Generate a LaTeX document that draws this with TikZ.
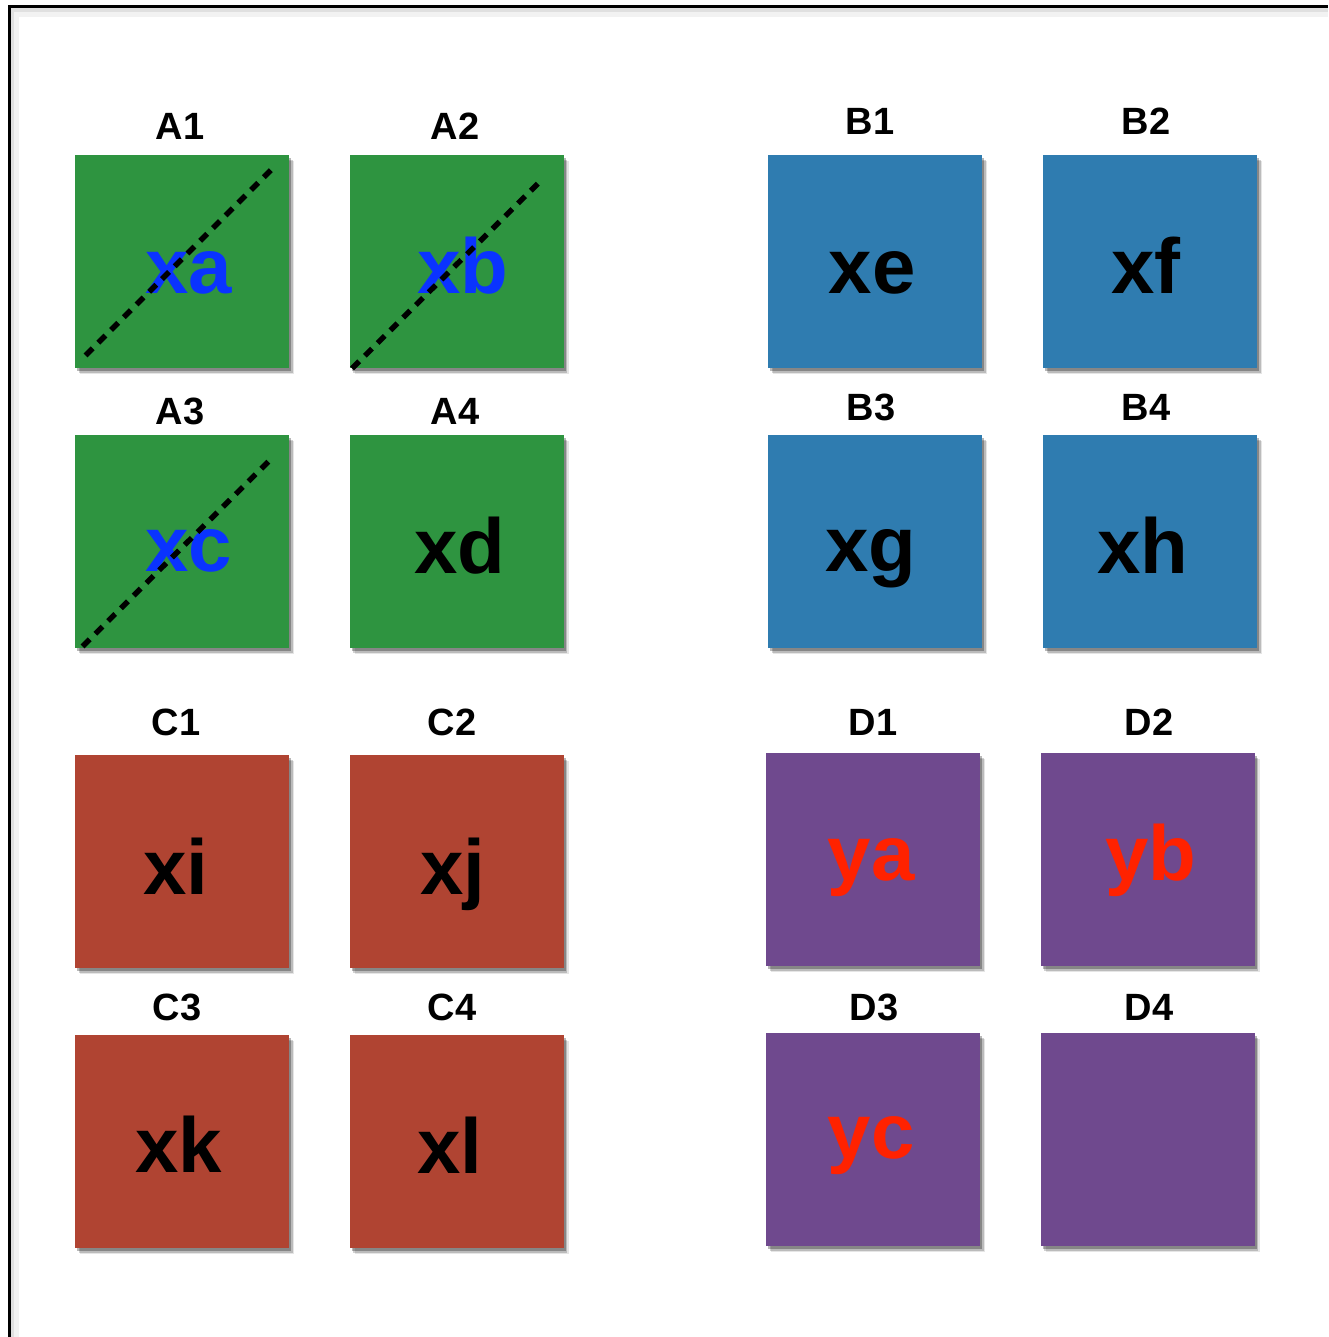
\documentclass[tikz,border=0pt]{standalone}
\usepackage{fontspec}
\setmainfont{Liberation Sans}
\usetikzlibrary{shadows,calc}
\definecolor{cgreen}{HTML}{2E9440}
\definecolor{cblue}{HTML}{2F7CB0}
\definecolor{cred}{HTML}{B04432}
\definecolor{cpurple}{HTML}{6F498E}
\definecolor{tblue}{HTML}{0A33FF}
\definecolor{tred}{HTML}{FF2200}
\tikzset{
  tile/.style={rectangle, inner sep=0pt, minimum width=107pt, minimum height=106.5pt, draw=none,
    drop shadow={shadow xshift=2.6pt, shadow yshift=-3.2pt, opacity=0.10, fill=black},
    drop shadow={shadow xshift=1.8pt, shadow yshift=-2.3pt, opacity=0.18, fill=black},
    drop shadow={shadow xshift=1.0pt, shadow yshift=-1.4pt, opacity=0.28, fill=black}},
  lab/.style={anchor=base, inner sep=0pt, font=\fontsize{19}{19}\selectfont\bfseries},
  big/.style={anchor=base, inner sep=0pt, font=\fontsize{39}{39}\selectfont\bfseries},
  diag/.style={line width=2.7pt, dash pattern=on 5pt off 4pt, black},
  frameline/.style={line width=1.5pt, black}
}
\begin{document}
\begin{tikzpicture}[x=0.5pt, y=-0.5pt]
\useasboundingbox (0,0) rectangle (1328,1337);
\fill[white] (0,0) rectangle (1328,1337);
% frame with soft shadow
\draw[line width=4pt, black!5] (15,1337) -- (15,13) -- (1328,13);
\draw[line width=2pt, black!12] (12,1337) -- (12,10) -- (1328,10);
\coordinate (fb) at (9,1337);
\coordinate (fc) at (9,7);
\coordinate (fr) at (1328,7);
\draw[frameline] (fb) -- (fc) -- (fr);

% tiles
\node[tile, fill=cgreen] (A1) at (182,261.5) {};
\node[tile, fill=cgreen] (A2) at (456.5,261.5) {};
\node[tile, fill=cgreen] (A3) at (182,541.5) {};
\node[tile, fill=cgreen] (A4) at (456.5,541.5) {};
\node[tile, fill=cblue] (B1) at (875,261.5) {};
\node[tile, fill=cblue] (B2) at (1150,261.5) {};
\node[tile, fill=cblue] (B3) at (875,541.5) {};
\node[tile, fill=cblue] (B4) at (1150,541.5) {};
\node[tile, fill=cred] (C1) at (182,861.5) {};
\node[tile, fill=cred] (C2) at (456.5,861.5) {};
\node[tile, fill=cred] (C3) at (182,1141.5) {};
\node[tile, fill=cred] (C4) at (456.5,1141.5) {};
\node[tile, fill=cpurple] (D1) at (873,859.5) {};
\node[tile, fill=cpurple] (D2) at (1147.5,859.5) {};
\node[tile, fill=cpurple] (D3) at (873,1139.5) {};
\node[tile, fill=cpurple] (D4) at (1147.5,1139.5) {};

% labels
\node[lab] (lA1) at (180,140) {A1};
\node[lab] (lA2) at (455,140) {A2};
\node[lab] (lB1) at (870,135) {B1};
\node[lab] (lB2) at (1146,135) {B2};
\node[lab] (lA3) at (180,424) {A3};
\node[lab] (lA4) at (455,424) {A4};
\node[lab] (lB3) at (871,420) {B3};
\node[lab] (lB4) at (1146,420) {B4};
\node[lab] (lC1) at (176,735) {C1};
\node[lab] (lC2) at (452,735) {C2};
\node[lab] (lD1) at (873,735) {D1};
\node[lab] (lD2) at (1149,735) {D2};
\node[lab] (lC3) at (177,1020) {C3};
\node[lab] (lC4) at (452,1020) {C4};
\node[lab] (lD3) at (874,1020) {D3};
\node[lab] (lD4) at (1149,1020) {D4};

% tile texts
\node[big, tblue] (xa) at (189,293) {xa};
\node[big, tblue] (xb) at (463,293) {xb};
\node[big, tblue] (xc) at (189,571) {xc};
\node[big] (xd) at (460,573) {xd};
\node[big] (xe) at (872,293) {xe};
\node[big] (xf) at (1146,293) {xf};
\node[big] (xg) at (871,571) {xg};
\node[big] (xh) at (1143,573) {xh};
\node[big] (xi) at (176,894) {xi};
\node[big] (xj) at (453,894) {xj};
\node[big] (xk) at (179,1172) {xk};
\node[big] (xl) at (450,1173) {xl};
\node[big, tred] (ya) at (871,880) {ya};
\node[big, tred] (yb) at (1151,880) {yb};
\node[big, tred] (yc) at (871,1158) {yc};

% dashed diagonals
\draw[diag] ($(A1.south west)+(11,-13)$) -- ($(A1.north east)+(-15,12)$);
\draw[diag] ($(A2.south west)+(3,0)$) -- ($(A2.north east)+(-23,26)$);
\draw[diag] ($(A3.south west)+(8,-2)$) -- ($(A3.north east)+(-17,23)$);
\end{tikzpicture}
\end{document}
